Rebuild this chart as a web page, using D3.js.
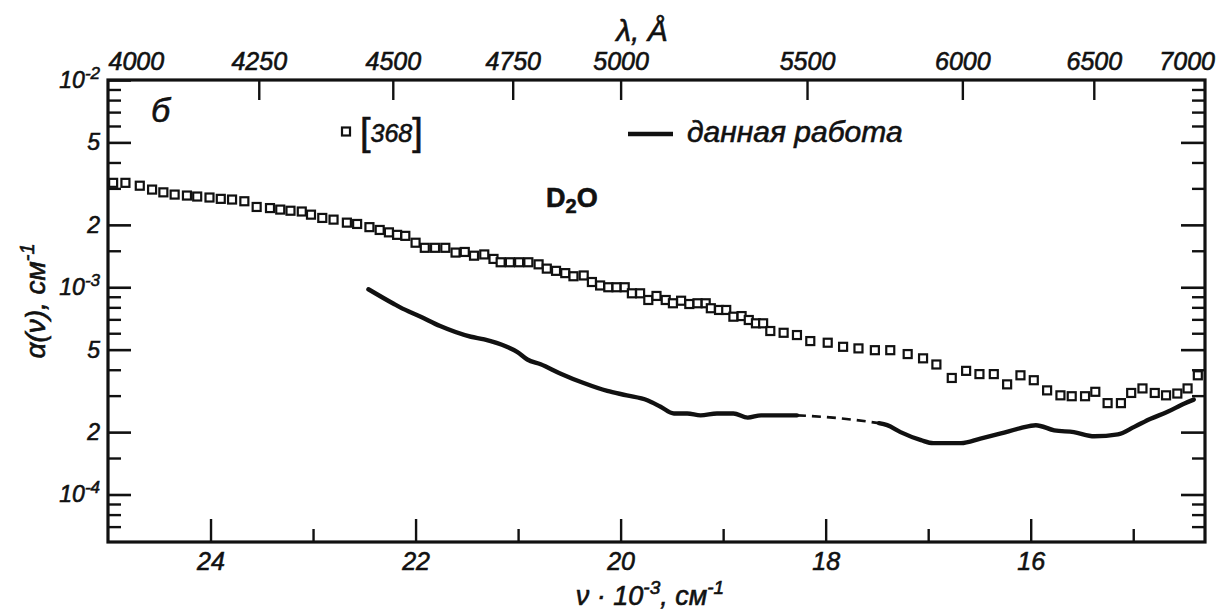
<!DOCTYPE html>
<html>
<head>
<meta charset="utf-8">
<script src="https://cdn.jsdelivr.net/npm/d3@7"></script>
<style>
  html, body { margin: 0; padding: 0; background: #ffffff; }
  svg { display: block; }
  text { font-family: "Liberation Sans", Arial, sans-serif; fill: #111; stroke: #111; stroke-width: 0.6px; }
</style>
</head>
<body>
<svg id="chart" width="1231" height="612"></svg>
<script>
// ---------------- DATA ----------------
// wavenumber in units of 10^3 cm^-1, absorption alpha in units of 10^-3 cm^-1
const ALPHA_UNIT = 1e-3;

// reference [368] (open squares)
const refNu = [24.95, 24.83, 24.69, 24.57, 24.46, 24.35, 24.23, 24.13, 24.01, 23.90,
  23.79, 23.67, 23.55, 23.42, 23.32, 23.22, 23.11, 23.02, 22.91, 22.80,
  22.67, 22.57, 22.45, 22.35, 22.26, 22.18, 22.10, 22.00, 21.91, 21.81,
  21.71, 21.61, 21.52, 21.43, 21.33, 21.24, 21.17, 21.08, 20.99, 20.90,
  20.80, 20.72, 20.63, 20.54, 20.46, 20.36, 20.28, 20.20, 20.12, 20.04,
  19.96, 19.89, 19.81, 19.73, 19.65, 19.56, 19.49, 19.41, 19.33, 19.25,
  19.17, 19.12, 19.04, 18.97, 18.90, 18.82, 18.75, 18.68, 18.61, 18.54,
  18.41, 18.28, 18.15, 17.98, 17.83, 17.68, 17.52, 17.37, 17.20, 17.05,
  16.92, 16.77, 16.63, 16.50, 16.36, 16.23, 16.10, 15.97, 15.84, 15.71,
  15.60, 15.47, 15.37, 15.25, 15.12, 15.02, 14.91, 14.79, 14.68, 14.57,
  14.47, 14.37];
const refAlpha = [3.19, 3.19, 3.09, 2.96, 2.87, 2.80, 2.77, 2.74, 2.71, 2.67,
  2.65, 2.60, 2.44, 2.41, 2.37, 2.34, 2.32, 2.24, 2.16, 2.12,
  2.05, 2.02, 1.95, 1.89, 1.84, 1.79, 1.77, 1.64, 1.55, 1.55,
  1.55, 1.47, 1.48, 1.42, 1.44, 1.37, 1.32, 1.32, 1.32, 1.32,
  1.29, 1.23, 1.20, 1.17, 1.13, 1.14, 1.06, 1.02, 1.00, 1.00,
  1.00, 0.935, 0.935, 0.868, 0.908, 0.868, 0.837, 0.861, 0.830, 0.837,
  0.837, 0.792, 0.777, 0.777, 0.721, 0.726, 0.695, 0.670, 0.670, 0.615,
  0.603, 0.588, 0.550, 0.540, 0.516, 0.507, 0.497, 0.497, 0.476, 0.454,
  0.424, 0.365, 0.395, 0.381, 0.381, 0.340, 0.376, 0.356, 0.318, 0.301,
  0.298, 0.298, 0.313, 0.276, 0.276, 0.309, 0.325, 0.309, 0.301, 0.307,
  0.325, 0.376];

// this work (solid curve), measured part 1
const workNu1 = [22.46, 22.21, 22.15, 21.95, 21.76, 21.46, 21.33, 21.11, 21.01, 20.91,
  20.78, 20.59, 20.36, 20.13, 19.94, 19.74, 19.61, 19.48, 19.35, 19.22,
  19.06, 18.90, 18.76, 18.63, 18.50, 18.28];
const workAlpha1 = [0.978, 0.830, 0.800, 0.721, 0.650, 0.577, 0.560, 0.516, 0.488, 0.448,
  0.425, 0.384, 0.345, 0.316, 0.301, 0.285, 0.265, 0.246, 0.246, 0.241,
  0.246, 0.246, 0.235, 0.241, 0.241, 0.241];
// dashed bridge
const gapNu = [18.28, 17.85, 17.48];
const gapAlpha = [0.241, 0.233, 0.221];
// measured part 2
const workNu2 = [17.48, 17.40, 17.27, 17.07, 16.95, 16.68, 16.49, 16.29, 16.10, 15.95,
  15.77, 15.58, 15.38, 15.15, 14.99, 14.83, 14.67, 14.50, 14.41];
const workAlpha2 = [0.221, 0.216, 0.200, 0.183, 0.177, 0.177, 0.186, 0.197, 0.209, 0.216,
  0.204, 0.200, 0.191, 0.195, 0.212, 0.232, 0.250, 0.275, 0.287];

// axis ticks
const yMajorTicks = [1e-4, 2e-4, 5e-4, 1e-3, 2e-3, 5e-3, 1e-2];
const yMinorTicks = [7e-5, 8e-5, 9e-5, 1.5e-4, 3e-4, 4e-4, 6e-4, 7e-4, 8e-4, 9e-4,
  1.5e-3, 3e-3, 4e-3, 6e-3, 7e-3, 8e-3, 9e-3];
const xMajorTicks = [24, 22, 20, 18, 16];
const xMinorTicks = [23, 21, 19, 17, 15];
const lambdaTicks = [4250, 4500, 4750, 5000, 5500, 6000, 6500];
const lambdaCornerLabels = [4000, 7000];

// ---------------- LAYOUT ----------------
const svg = d3.select("#chart");
const W = 1231, H = 612;
const mLeft = 108, mRight = 1205, mTop = 80, mBottom = 542;

const x = d3.scaleLinear().domain([25, 14.3]).range([mLeft, mRight]);
const y = d3.scaleLog().domain([5.9e-5, 1e-2]).range([mBottom, mTop]);

svg.append("rect").attr("width", W).attr("height", H).attr("fill", "#fff");

function styleAxis(g, sw) {
  g.select(".domain").remove();
  g.selectAll(".tick line").attr("stroke", "#111").attr("stroke-width", sw);
  g.selectAll(".tick text").attr("fill", "#111").attr("font-family", null).style("font-style", "italic");
}

// left axis, major
const yMajAxis = svg.append("g").attr("transform", `translate(${mLeft},0)`)
  .call(d3.axisLeft(y).tickValues(yMajorTicks).tickSize(-23).tickPadding(8)
    .tickFormat(d => String(d)));
styleAxis(yMajAxis, 2.6);
yMajAxis.selectAll(".tick text")
  .attr("font-size", 23)
  .each(function(d) {
    const t = d3.select(this);
    const e = Math.floor(Math.log10(d) + 1e-9);
    const m = Math.round(d / Math.pow(10, e));
    t.text(null);
    if (m === 1) {
      t.append("tspan").text("10");
      t.append("tspan").attr("dy", -9).attr("font-size", 17).text("-" + Math.abs(e));
    } else {
      t.text(String(m));
    }
  });
// left axis, minor
styleAxis(svg.append("g").attr("transform", `translate(${mLeft},0)`)
  .call(d3.axisLeft(y).tickValues(yMinorTicks).tickSize(-13).tickFormat("")), 2.4);

// right axis (ticks inward)
styleAxis(svg.append("g").attr("transform", `translate(${mRight},0)`)
  .call(d3.axisRight(y).tickValues(yMajorTicks.filter(v => v < 1e-2)).tickSize(-24).tickFormat("")), 2.6);
styleAxis(svg.append("g").attr("transform", `translate(${mRight},0)`)
  .call(d3.axisRight(y).tickValues(yMinorTicks).tickSize(-13).tickFormat("")), 2.4);

// bottom axis
const xMajAxis = svg.append("g").attr("transform", `translate(0,${mBottom})`)
  .call(d3.axisBottom(x).tickValues(xMajorTicks).tickSize(-23).tickPadding(10).tickFormat(d3.format("d")));
styleAxis(xMajAxis, 2.4);
xMajAxis.selectAll(".tick text").attr("font-size", 25);
styleAxis(svg.append("g").attr("transform", `translate(0,${mBottom})`)
  .call(d3.axisBottom(x).tickValues(xMinorTicks).tickSize(-13).tickFormat("")), 2.4);

// top axis in wavelength (Å): nu[10^3 cm^-1] = 1e5 / lambda
const topAxis = svg.append("g").attr("transform", `translate(0,${mTop})`)
  .call(d3.axisTop(x).tickValues(lambdaTicks.map(l => 1e5 / l)).tickSize(-20).tickPadding(10)
    .tickFormat((d, i) => String(lambdaTicks[i])));
styleAxis(topAxis, 2.4);
topAxis.selectAll(".tick text").attr("font-size", 25);
const cornerAxis = svg.append("g").attr("transform", `translate(0,${mTop})`)
  .call(d3.axisTop(x).tickValues(lambdaCornerLabels.map(l => 1e5 / l)).tickSize(0).tickPadding(10)
    .tickFormat((d, i) => String(lambdaCornerLabels[i])));
styleAxis(cornerAxis, 0);
cornerAxis.selectAll(".tick text").attr("font-size", 25)
  .attr("text-anchor", (d, i) => i === 0 ? "start" : "end")
  .attr("dx", (d, i) => i === 0 ? 0 : 8);

// frame
svg.append("rect").attr("x", mLeft).attr("y", mTop)
  .attr("width", mRight - mLeft).attr("height", mBottom - mTop)
  .attr("fill", "none").attr("stroke", "#111").attr("stroke-width", 3.2);

// ---------------- MARKS ----------------
const line = d3.line().x(d => x(d[0])).y(d => y(d[1] * ALPHA_UNIT)).curve(d3.curveMonotoneX);

svg.append("path").datum(d3.zip(workNu1, workAlpha1)).attr("d", line)
  .attr("fill", "none").attr("stroke", "#111").attr("stroke-width", 4.4).attr("stroke-linejoin", "round").attr("stroke-linecap", "round");
svg.append("path").datum(d3.zip(gapNu, gapAlpha)).attr("d", line)
  .attr("fill", "none").attr("stroke", "#111").attr("stroke-width", 2.6).attr("stroke-dasharray", "9,6");
svg.append("path").datum(d3.zip(workNu2, workAlpha2)).attr("d", line)
  .attr("fill", "none").attr("stroke", "#111").attr("stroke-width", 4.4).attr("stroke-linejoin", "round").attr("stroke-linecap", "round");

const sq = 8;
svg.append("g").selectAll("rect").data(d3.zip(refNu, refAlpha)).join("rect")
  .attr("x", d => x(d[0]) - sq / 2).attr("y", d => y(d[1] * ALPHA_UNIT) - sq / 2)
  .attr("width", sq).attr("height", sq)
  .attr("fill", "#fff").attr("stroke", "#111").attr("stroke-width", 2.2);

// ---------------- TEXT ----------------
// panel letter
svg.append("text").attr("x", 151).attr("y", 122).attr("font-size", 34).style("font-style", "italic").text("б");

// legend
svg.append("rect").attr("x", 342).attr("y", 127.5).attr("width", 8).attr("height", 8)
  .attr("fill", "#fff").attr("stroke", "#111").attr("stroke-width", 2.2);
const refLab = svg.append("text").attr("x", 360).attr("y", 142).attr("font-size", 25).style("font-style", "italic");
refLab.append("tspan").attr("font-size", 38).style("font-style", "normal").attr("dy", 3).text("[");
refLab.append("tspan").attr("dy", -3).text("368");
refLab.append("tspan").attr("font-size", 38).style("font-style", "normal").attr("dy", 3).text("]");

svg.append("line").attr("x1", 628).attr("x2", 673).attr("y1", 134).attr("y2", 134)
  .attr("stroke", "#111").attr("stroke-width", 4.5);
svg.append("text").attr("x", 687).attr("y", 142).attr("font-size", 30).style("font-style", "italic").text("данная работа");

// substance
const d2o = svg.append("text").attr("x", 546).attr("y", 207).attr("font-size", 27)
  .style("font-style", "normal").attr("font-weight", "bold");
d2o.append("tspan").text("D");
d2o.append("tspan").attr("dy", 6).attr("font-size", 20).text("2");
d2o.append("tspan").attr("dy", -6).text("O");

// top axis title
svg.append("text").attr("x", 642).attr("y", 41).attr("font-size", 30).attr("text-anchor", "middle")
  .style("font-style", "italic").text("λ, Å");

// x axis title
const xt = svg.append("text").attr("x", 650).attr("y", 605).attr("font-size", 27).attr("text-anchor", "middle")
  .style("font-style", "italic");
xt.append("tspan").text("ν · 10");
xt.append("tspan").attr("dy", -11).attr("font-size", 19).text("-3");
xt.append("tspan").attr("dy", 11).text(", см");
xt.append("tspan").attr("dy", -11).attr("font-size", 19).text("-1");

// y axis title
const yt = svg.append("text").attr("transform", "translate(45,301) rotate(-90)")
  .attr("font-size", 28).attr("text-anchor", "middle").style("font-style", "italic");
yt.append("tspan").text("α(ν), см");
yt.append("tspan").attr("dy", -11).attr("font-size", 20).text("-1");
</script>
</body>
</html>
